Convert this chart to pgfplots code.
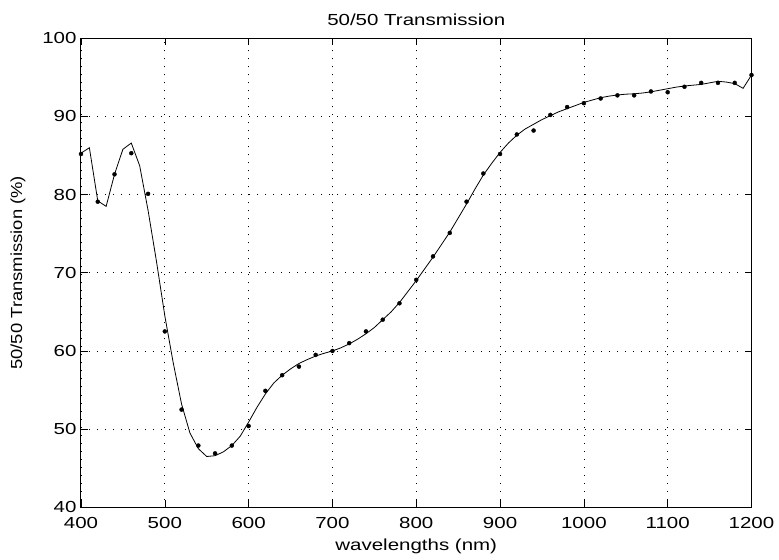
\documentclass[border=0pt]{standalone}
\usepackage{pgfplots}
\pgfplotsset{compat=1.18}
\usepackage{fontspec}
\setmainfont[FakeStretch=1.28]{Liberation Sans}
\newfontfamily\ylfont[FakeStretch=1.15]{Liberation Sans}
\begin{document}
\begin{tikzpicture}
\begin{axis}[
  scale only axis,
  width=670.5bp, height=469bp,
  xmin=400, xmax=1200, ymin=40, ymax=100,
  xtick={400,500,...,1200}, ytick={40,50,...,100},
  /pgf/number format/assume math mode=true,
  /pgf/number format/1000 sep={},
  tick label style={font=\fontsize{16bp}{18bp}\selectfont},
  xticklabel style={yshift=-7bp},
  yticklabel style={xshift=-1bp},
  tick align=inside,
  major tick length=7bp,
  tick style={black, line width=0.6bp},
  axis line style={black, line width=1bp},
  grid=major,
  major grid style={black, line width=0.7bp, dash pattern=on 0.8bp off 7.2bp},
  title={50/50 Transmission},
  title style={font=\fontsize{16bp}{18bp}\selectfont, yshift=3bp},
  xlabel={wavelengths (nm)},
  xlabel style={font=\fontsize{16bp}{18bp}\selectfont, yshift=-3bp},
  ylabel={\ylfont 50/50 Transmission (\%)},
  ylabel style={font=\fontsize{16bp}{18bp}\selectfont, yshift=10bp},
]
\addplot[black, line width=0.8bp, mark=none] coordinates {
(400,85.3) (410,86.0) (420,79.2) (430,78.5) (440,82.6) (450,85.8) (460,86.6)
(470,83.7) (480,78.0) (490,71.5) (500,64.5) (510,58.5) (520,53.2) (530,49.5)
(540,47.5) (550,46.5) (560,46.6) (570,47.1) (580,47.9) (590,49.1) (600,50.9)
(610,52.8) (620,54.5) (630,55.9) (640,56.9) (650,57.7) (660,58.4) (670,58.9)
(680,59.35) (690,59.7) (700,60.0) (710,60.4) (720,60.9) (730,61.5) (740,62.2)
(750,63.0) (760,64.0) (770,65.0) (780,66.2) (790,67.6) (800,69.0) (810,70.5)
(820,72.0) (830,73.6) (840,75.2) (850,77.0) (860,78.8) (870,80.7) (880,82.5)
(890,84.0) (900,85.4) (910,86.6) (920,87.6) (930,88.4) (940,89.0) (950,89.6)
(960,90.1) (970,90.6) (980,91.0) (990,91.4) (1000,91.8) (1010,92.1) (1020,92.4)
(1030,92.6) (1040,92.75) (1050,92.85) (1060,92.9) (1070,93.0) (1080,93.15)
(1090,93.35) (1100,93.55) (1110,93.75) (1120,93.9) (1130,94.0) (1140,94.1)
(1150,94.3) (1160,94.5) (1170,94.4) (1180,94.2) (1190,93.6) (1200,95.3)
};
\addplot[only marks, mark=*, mark size=2bp, black] coordinates {
(400,85.2) (420,79.1) (440,82.6) (460,85.3) (480,80.1) (500,62.5) (520,52.5)
(540,47.9) (560,46.9) (580,47.9) (600,50.4) (620,54.9) (640,56.9) (660,58.0)
(680,59.5) (700,60.0) (720,61.0) (740,62.5) (760,64.0) (780,66.1) (800,69.1)
(820,72.1) (840,75.1) (860,79.1) (880,82.7) (900,85.2) (920,87.7) (940,88.2)
(960,90.2) (980,91.2) (1000,91.7) (1020,92.3) (1040,92.7) (1060,92.7)
(1080,93.2) (1100,93.1) (1120,93.8) (1140,94.3) (1160,94.3) (1180,94.3) (1200,95.3)
};
\coordinate (sw) at (rel axis cs:0,0);
\coordinate (ne) at (rel axis cs:1,1);
\end{axis}
\pgfresetboundingbox
\path[use as bounding box] ([xshift=-81bp,yshift=-52.7bp]sw) rectangle ([xshift=27.5bp,yshift=38.3bp]ne);
\end{tikzpicture}
\end{document}
